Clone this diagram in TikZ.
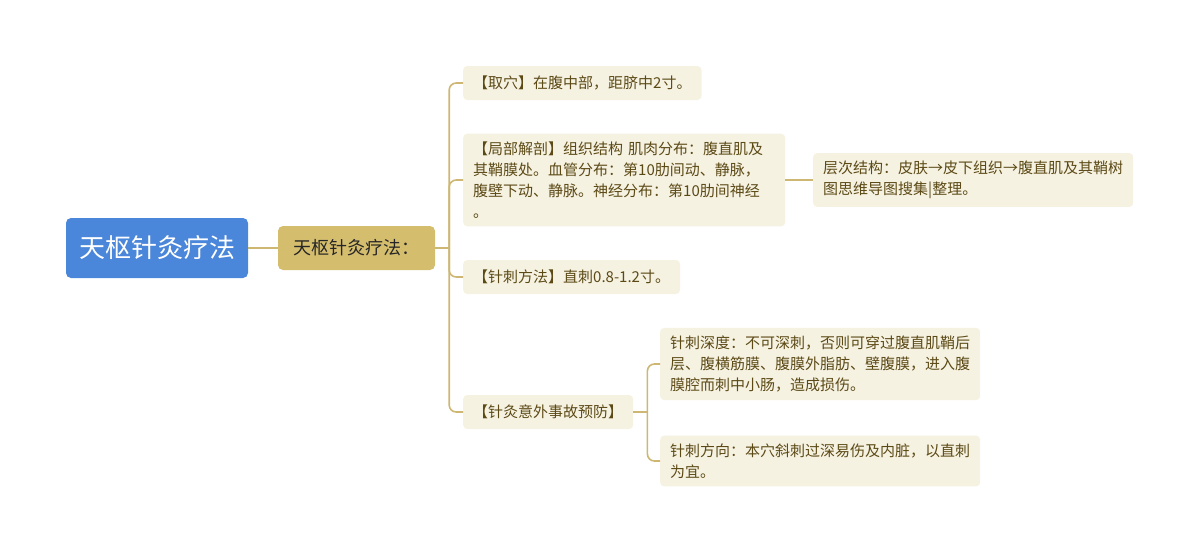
\documentclass[tikz,border=0pt]{standalone}
\usepackage{fontspec}
\usepackage{xcolor}
\usepackage{tikz}
\newfontfamily\cjk{Noto Sans CJK SC}
\definecolor{rootblue}{RGB}{74,134,218}
\definecolor{subgold}{RGB}{213,189,110}
\definecolor{leafbg}{RGB}{246,242,226}
\definecolor{leaftext}{RGB}{92,74,22}
\definecolor{linegold}{RGB}{205,183,115}

\begin{document}
\begin{tikzpicture}[x=1pt,y=-1pt,
    leaf/.style={anchor=west, rounded corners=4, fill=leafbg, text=leaftext,
        font=\cjk\fontsize{15}{21}\selectfont, align=left, inner xsep=10, inner ysep=8,
        minimum height=34},
    link/.style={draw=linegold, line width=1.6pt, rounded corners=7}]

        \useasboundingbox (0,0) rectangle (1200,555);

        % Draw root and first level
        \node[rounded corners=5, fill=rootblue, text=white, font=\cjk\fontsize{26}{30}\selectfont,
            minimum width=182, minimum height=60] (root) at (157,248) {天枢针灸疗法};
        \node[rounded corners=5, fill=subgold, text=black!85, font=\cjk\fontsize{18}{22}\selectfont,
            minimum width=157, minimum height=44] (sub) at (356.5,248) {天枢针灸疗法：};

        % Draw children
        \node[leaf] (c-1) at (463,83) {【取穴】在腹中部，距脐中2寸。};
        \node[leaf, text width=302] (c-2) at (463,180) {【局部解剖】组织结构 肌肉分布：腹直肌及\\其鞘膜处。血管分布：第10肋间动、静脉，\\腹壁下动、静脉。神经分布：第10肋间神经\\。};
        \node[leaf] (c-3) at (463,277) {【针刺方法】直刺0.8-1.2寸。};
        \node[leaf] (c-4) at (463,412) {【针灸意外事故预防】};
        \node[leaf] (d-1) at (813,180) {层次结构：皮肤→皮下组织→腹直肌及其鞘树\\图思维导图搜集|整理。};
        \node[leaf] (e-1) at (660,364) {针刺深度：不可深刺，否则可穿过腹直肌鞘后\\层、腹横筋膜、腹膜外脂肪、壁腹膜，进入腹\\膜腔而刺中小肠，造成损伤。};
        \node[leaf] (e-2) at (660,461) {针刺方向：本穴斜刺过深易伤及内脏，以直刺\\为宜。};

        % Draw connectors
        \coordinate (j-1) at ([xshift=14]sub.east);
        \coordinate (j-2) at ([xshift=14]c-4.east);
        \def \drawlink#1#2{\draw[link] (#1) |- (#2.west);}
        \draw[link] (root) -- (sub);
        \draw[link] (sub) -- (j-1);
        \drawlink{j-1}{c-1} \drawlink{j-1}{c-2} \drawlink{j-1}{c-3} \drawlink{j-1}{c-4}
        \draw[link] (c-2) -- (d-1);
        \draw[link] (c-4) -- (j-2);
        \drawlink{j-2}{e-1} \drawlink{j-2}{e-2}

    \end{tikzpicture}
\end{document}
